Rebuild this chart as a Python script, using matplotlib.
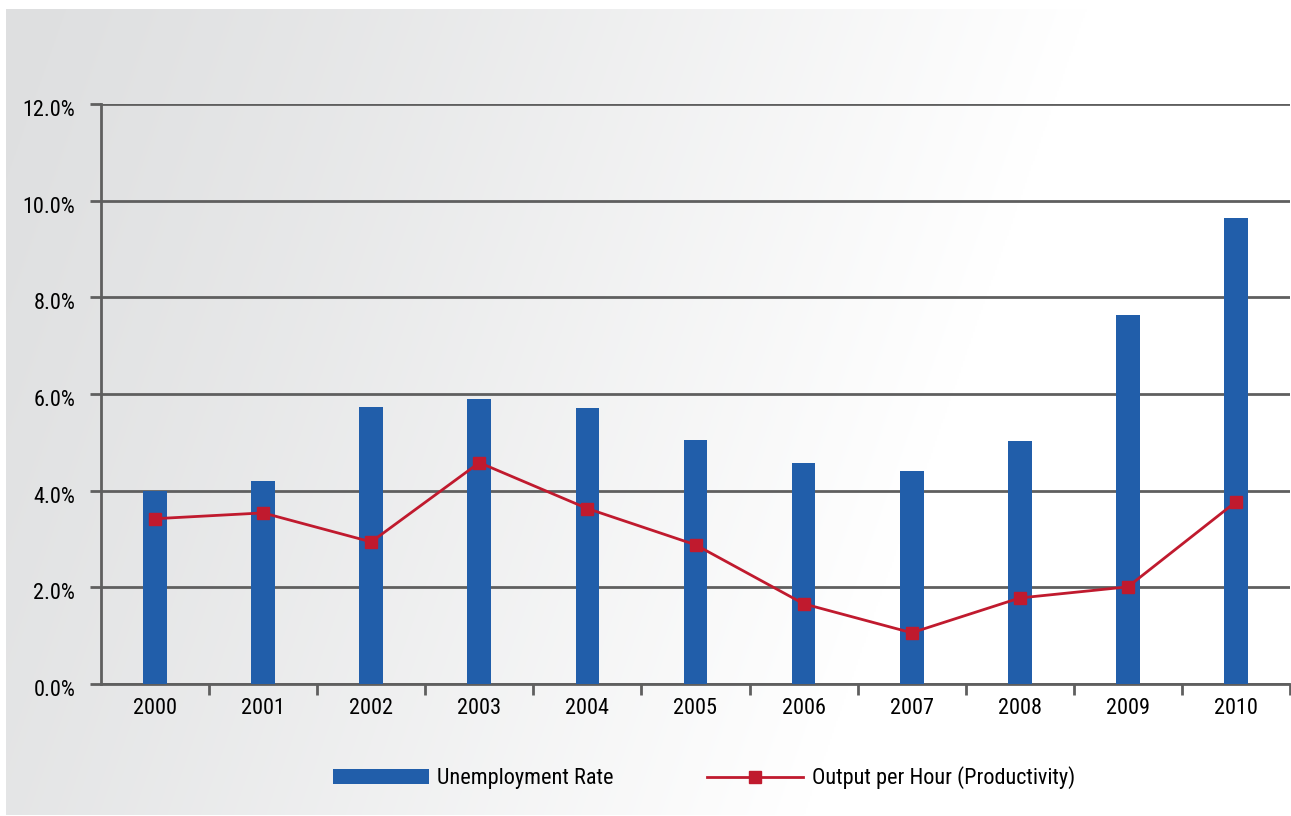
import numpy as np
import matplotlib.pyplot as plt
import matplotlib.transforms as mtransforms
from matplotlib.lines import Line2D
from matplotlib.patches import Patch

# --- data ---
years = ['2000', '2001', '2002', '2003', '2004', '2005', '2006', '2007', '2008', '2009', '2010']
unemployment = [4.0, 4.2, 5.74, 5.89, 5.72, 5.04, 4.58, 4.41, 5.02, 7.63, 9.64]
productivity = [3.42, 3.54, 2.94, 4.58, 3.63, 2.88, 1.66, 1.06, 1.78, 2.01, 3.77]
y_ticks = [0, 2, 4, 6, 8, 10, 12]

bar_color = '#215EAA'
line_color = '#C01A2E'
grid_color = '#5F5F5F'

plt.rcParams['font.family'] = ['Roboto Condensed', 'Liberation Sans', 'DejaVu Sans']

fig = plt.figure(figsize=(12.91, 8.16), dpi=100)

# gray-to-white diagonal backdrop
bg = fig.add_axes([6 / 1291, 1 / 816, 1 - 6 / 1291, 1 - 10 / 816])
h, w = 400, 640
xx, yy = np.meshgrid(np.linspace(0, 1285, w), np.linspace(0, 806, h))
t = np.clip((xx + 0.35 * yy) / 1080, 0, 1) ** 1.2
shade = (222 + 33 * t) / 255
img = np.dstack([shade, shade + 0.004 * (1 - t), shade + 0.008 * (1 - t)])
bg.imshow(np.clip(img, 0, 1), aspect='auto', extent=[0, 1, 0, 1], origin='upper')
bg.axis('off')

ax = fig.add_axes([101 / 1291, 1 - 684 / 816, 1189 / 1291, (684 - 104) / 816])
ax.patch.set_alpha(0)
x = np.arange(len(years))
ax.bar(x, unemployment, width=0.22, color=bar_color, zorder=3)
ax.plot(x, productivity, color=line_color, lw=2, marker='s', ms=9,
        markeredgecolor=line_color, zorder=4)

ax.set_xlim(-0.5, len(years) - 0.5)
ax.set_ylim(0, 12)
ax.set_yticks(y_ticks)
ax.set_yticklabels(['{:.1f}%'.format(v) for v in y_ticks], fontsize=16)
ax.yaxis.grid(True, color=grid_color, lw=2)
ax.set_axisbelow(True)
ax.tick_params(axis='y', length=8, width=2, color=grid_color, pad=10.5)
# nudge the percent labels a little below their gridlines
shift = mtransforms.ScaledTranslation(0, -4 / 100, fig.dpi_scale_trans)
for lbl in ax.get_yticklabels():
    lbl.set_transform(lbl.get_transform() + shift)

# category separators as minor ticks, labels centred without ticks
ax.set_xticks(x)
ax.set_xticklabels(years, fontsize=16)
ax.set_xticks(np.arange(0.5, len(years), 1), minor=True)
ax.tick_params(axis='x', which='major', length=0, pad=10)
ax.tick_params(axis='x', which='minor', length=8, width=2, color=grid_color)

for side in ['top', 'right']:
    ax.spines[side].set_visible(False)
for side in ['left', 'bottom']:
    ax.spines[side].set_color(grid_color)
    ax.spines[side].set_linewidth(2)

handles = [
    Patch(facecolor=bar_color, edgecolor='none'),
    Line2D([0], [0], color=line_color, lw=2, marker='s', ms=9),
]
fig.legend(handles, ['Unemployment Rate', 'Output per Hour (Productivity)'],
           loc='center', bbox_to_anchor=(704 / 1291, 1 - 778 / 816), ncol=2,
           frameon=False, fontsize=16, handlelength=4.3, handleheight=0.7,
           columnspacing=4.2, handletextpad=0.4)

fig.savefig('out.png', dpi=100)
